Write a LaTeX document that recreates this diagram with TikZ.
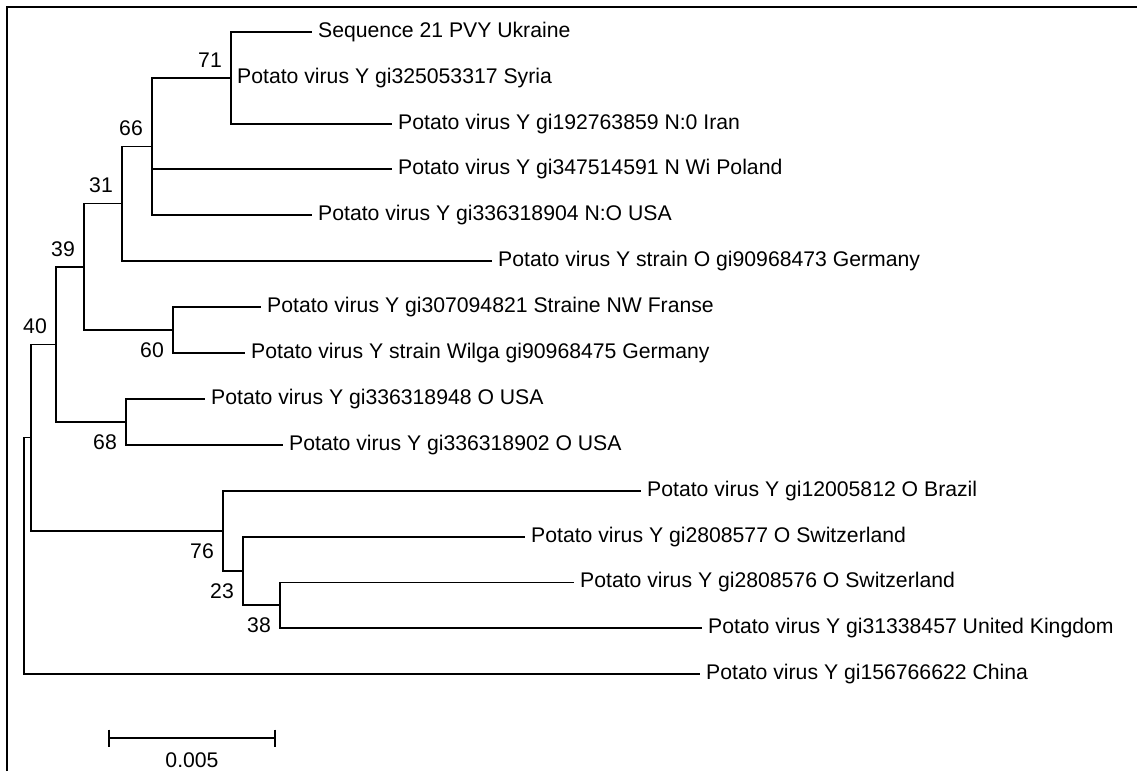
\documentclass[tikz,border=0pt]{standalone}
\usepackage{fontspec}
\setmainfont{Liberation Sans}
\usetikzlibrary{calc}

\begin{document}
\begin{tikzpicture}[x=1pt,y=-1pt,font=\fontsize{21.2}{25}\selectfont,
  branch/.style={line width=1.4pt},
  taxon/.style={anchor=west,inner xsep=6pt,inner ysep=0pt},
  bootup/.style={anchor=east,inner sep=0pt,xshift=-9pt,yshift=18pt},
  bootdown/.style={anchor=east,inner sep=0pt,xshift=-9pt,yshift=-20pt}]
  \useasboundingbox (0,0) rectangle (1137,771);
  \draw[line width=1.6pt] (7,771) -- (7,7) -- (1137,7);
  % internal nodes
  \coordinate (n71) at (231,78);
  \coordinate (n66) at (152,146.5);
  \coordinate (n31) at (122,203.5);
  \coordinate (n60) at (173,330);
  \coordinate (n39) at (84,267);
  \coordinate (n68) at (126,422);
  \coordinate (n40) at (56,344.5);
  \coordinate (n38) at (280,605);
  \coordinate (n23) at (243,571);
  \coordinate (n76) at (223,531);
  \coordinate (nin) at (31,437.5);
  \coordinate (root) at (24,556);
  % taxa
  \node[taxon] (seq21) at (312,32) {Sequence 21 PVY Ukraine};
  \node[taxon] (syria) at (n71) {Potato virus Y gi325053317 Syria};
  \node[taxon] (iran) at (392,124) {Potato virus Y gi192763859 N:0 Iran};
  \node[taxon] (poland) at (392,169) {Potato virus Y gi347514591 N Wi Poland};
  \node[taxon] (usa904) at (312,215) {Potato virus Y gi336318904 N:O USA};
  \node[taxon] (germo) at (492,261) {Potato virus Y strain O gi90968473 Germany};
  \node[taxon] (franse) at (261,307) {Potato virus Y gi307094821 Straine NW Franse};
  \node[taxon] (wilga) at (245,353) {Potato virus Y strain Wilga gi90968475 Germany};
  \node[taxon] (usa948) at (205,399) {Potato virus Y gi336318948 O USA};
  \node[taxon] (usa902) at (283,445) {Potato virus Y gi336318902 O USA};
  \node[taxon] (brazil) at (641,491) {Potato virus Y gi12005812 O Brazil};
  \node[taxon] (swi577) at (525,537) {Potato virus Y gi2808577 O Switzerland};
  \node[taxon] (swi576) at (574,582.5) {Potato virus Y gi2808576 O Switzerland};
  \node[taxon] (uk) at (702,628) {Potato virus Y gi31338457 United Kingdom};
  \node[taxon] (china) at (700,674) {Potato virus Y gi156766622 China};
  % branches
  \foreach \a/\b in {n71/seq21.west,n71/iran.west,n66/n71,n66/poland.west,
      n66/usa904.west,n31/n66,n31/germo.west,n60/franse.west,n60/wilga.west,
      n39/n31,n39/n60,n68/usa948.west,n68/usa902.west,n40/n39,n40/n68,
      n38/swi576.west,n38/uk.west,n23/swi577.west,n23/n38,n76/brazil.west,
      n76/n23,nin/n40,nin/n76,root/nin,root/china.west}
    \draw[branch] (\a) |- (\b);
  % bootstrap values
  \node[bootup] (b71) at (n71) {71};
  \node[bootup] (b66) at (n66) {66};
  \node[bootup] (b31) at (n31) {31};
  \node[bootup] (b39) at (n39) {39};
  \node[bootup] (b40) at (n40) {40};
  \node[bootdown] (b60) at (n60) {60};
  \node[bootdown] (b68) at (n68) {68};
  \node[bootdown] (b76) at (n76) {76};
  \node[bootdown] (b23) at (n23) {23};
  \node[bootdown] (b38) at (n38) {38};
  % scale bar
  \coordinate (sl) at (109,738);
  \coordinate (sr) at (275,738);
  \draw[line width=1.8pt] (sl) -- (sr);
  \draw[branch] ($(sl)+(0,-8.5)$) -- ($(sl)+(0,8.5)$);
  \draw[branch] ($(sr)+(0,-8.5)$) -- ($(sr)+(0,8.5)$);
  \node (scale) at ($(sl)!0.5!(sr)+(0,22)$) {0.005};
\end{tikzpicture}
\end{document}
